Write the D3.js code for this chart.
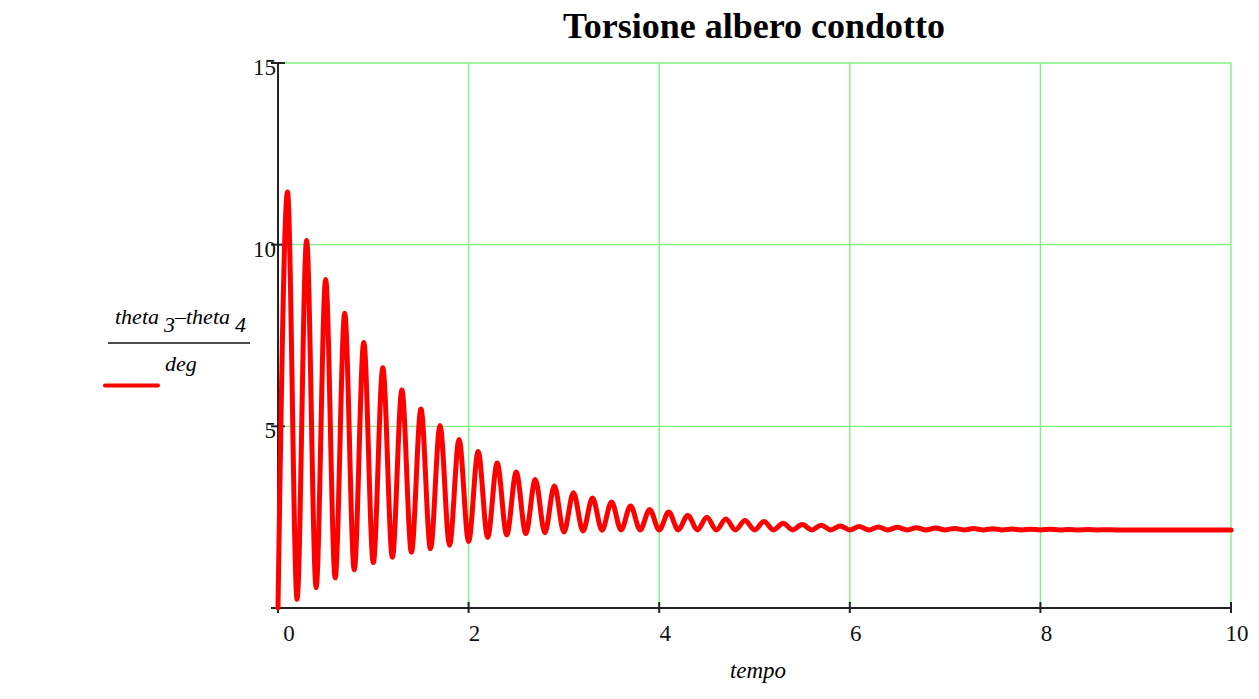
<!DOCTYPE html>
<html>
<head>
<meta charset="utf-8">
<script src="https://cdn.jsdelivr.net/npm/d3@7"></script>
<style>
  body { margin: 0; background: #fff; }
  svg { display: block; font-family: "Liberation Serif", "Times New Roman", serif; }
</style>
</head>
<body>
<div class="chart-container"></div>
<script>
// values: peaks and troughs of theta3-theta4 in deg
const peakTime = [0.1, 0.3, 0.5, 0.7, 0.9, 1.1, 1.3, 1.5, 1.7, 1.9, 2.1, 2.3, 2.5, 2.7, 2.9, 3.1, 3.3, 3.5, 3.7, 3.9,
  4.1, 4.3, 4.5, 4.7, 4.9, 5.1, 5.3, 5.5, 5.7, 5.9, 6.1, 6.3, 6.5, 6.7, 6.9, 7.1, 7.3, 7.5, 7.7, 7.9, 8.1, 8.3, 8.5, 8.7]
const peakValue = [11.45, 10.12, 9.04, 8.11, 7.31, 6.61, 6.00, 5.48, 5.02, 4.64, 4.31, 3.99, 3.74, 3.54, 3.36, 3.17, 3.03, 2.92, 2.81, 2.71,
  2.64, 2.55, 2.50, 2.45, 2.41, 2.38, 2.33, 2.30, 2.28, 2.26, 2.24, 2.23, 2.22, 2.21, 2.20, 2.19, 2.185, 2.18, 2.175, 2.17, 2.165, 2.16, 2.158, 2.155]
const troughTime = [0.2, 0.4, 0.6, 0.8, 1.0, 1.2, 1.4, 1.6, 1.8, 2.0, 2.2, 2.4, 2.6, 2.8, 3.0, 3.2, 3.4, 3.6, 3.8, 4.0,
  4.2, 4.4, 4.6, 4.8, 5.0, 5.2, 5.4, 5.6, 5.8, 6.0, 6.2, 6.4, 6.6, 6.8, 7.0, 7.2, 7.4, 7.6, 7.8, 8.0, 8.2, 8.4, 8.6, 8.8]
const troughValue = [0.24, 0.56, 0.83, 1.05, 1.25, 1.40, 1.54, 1.63, 1.73, 1.83, 1.95, 2.01, 2.05, 2.07, 2.09, 2.12, 2.14, 2.15, 2.15, 2.15,
  2.15, 2.15, 2.15, 2.15, 2.15, 2.15, 2.15, 2.15, 2.15, 2.15, 2.15, 2.15, 2.15, 2.15, 2.15, 2.15, 2.15, 2.15, 2.15, 2.15, 2.15, 2.15, 2.15, 2.15]
const startPoint = [0, 0]
const endPoint = [10, 2.15]

const xTicks = [0, 2, 4, 6, 8, 10]
const yTicks = [0, 5, 10, 15]
const yTickLabels = ["", "5", "10", "15"]

const width = 1259, height = 699

//Put peaks, troughs and the end points together in time order
let points = [startPoint]
peakTime.forEach((t, i) => points.push([t, peakValue[i]]))
troughTime.forEach((t, i) => points.push([t, troughValue[i]]))
points.push(endPoint)
points.sort((a, b) => a[0] - b[0])

const x = d3.scaleLinear().domain([0, 10]).range([278, 1231])
const y = d3.scaleLinear().domain([0, 15]).range([608, 63])

const svg = d3.select(".chart-container").append("svg")
  .attr("width", width)
  .attr("height", height)

//Grid lines (green)
const grid = svg.append("g").attr("stroke", "#7ff27f").attr("stroke-width", 1.4)
grid.selectAll("line.v").data(xTicks.filter(d => d > 0)).join("line")
  .attr("class", "v")
  .attr("x1", d => x(d)).attr("x2", d => x(d))
  .attr("y1", y(15)).attr("y2", y(0))
grid.selectAll("line.h").data(yTicks.filter(d => d > 0)).join("line")
  .attr("class", "h")
  .attr("x1", x(0)).attr("x2", x(10))
  .attr("y1", d => y(d)).attr("y2", d => y(d))

//Axes
const axisColor = "#222"
svg.append("line")
  .attr("x1", x(0) - 6).attr("x2", x(10))
  .attr("y1", y(0)).attr("y2", y(0))
  .attr("stroke", axisColor).attr("stroke-width", 2)
svg.append("line")
  .attr("x1", x(0)).attr("x2", x(0))
  .attr("y1", y(15)).attr("y2", y(0))
  .attr("stroke", axisColor).attr("stroke-width", 2)

svg.append("g").selectAll("line").data(xTicks).join("line")
  .attr("x1", d => x(d)).attr("x2", d => x(d))
  .attr("y1", y(0) - 6).attr("y2", y(0) + 5)
  .attr("stroke", axisColor).attr("stroke-width", 2)
svg.append("g").selectAll("line").data(yTicks).join("line")
  .attr("x1", x(0) - 7).attr("x2", x(0) + 7)
  .attr("y1", d => y(d)).attr("y2", d => y(d))
  .attr("stroke", axisColor).attr("stroke-width", 2)

svg.append("g").selectAll("text").data(xTicks).join("text")
  .attr("x", d => x(d) + (d == 0 ? 11 : 6))
  .attr("y", 641)
  .attr("text-anchor", "middle")
  .attr("font-size", 23)
  .attr("fill", "#111")
  .text(d => d)
svg.append("g").selectAll("text").data(yTicks).join("text")
  .attr("x", x(0) - 2)
  .attr("y", d => y(d) + 12)
  .attr("text-anchor", "end")
  .attr("font-size", 23)
  .attr("fill", "#111")
  .text((d, i) => yTickLabels[i])

//Title and axis label
svg.append("text")
  .attr("x", 754).attr("y", 38)
  .attr("text-anchor", "middle")
  .attr("font-size", 36)
  .attr("font-weight", "bold")
  .text("Torsione albero condotto")

svg.append("text")
  .attr("x", 758).attr("y", 678)
  .attr("text-anchor", "middle")
  .attr("font-size", 23)
  .attr("font-style", "italic")
  .text("tempo")

//Legend: (theta3 - theta4) / deg with red line
const leg = svg.append("text")
  .attr("x", 115).attr("y", 324)
  .attr("font-size", 22)
  .attr("font-style", "italic")
leg.append("tspan").text("theta")
leg.append("tspan").attr("dx", 5).attr("dy", 8).text("3")
leg.append("tspan").attr("dy", -8).text("\u2013theta")
leg.append("tspan").attr("dx", 5).attr("dy", 8).text("4")

svg.append("line")
  .attr("x1", 108).attr("x2", 250)
  .attr("y1", 343).attr("y2", 343)
  .attr("stroke", "#111").attr("stroke-width", 1.6)

svg.append("text")
  .attr("x", 181).attr("y", 371)
  .attr("text-anchor", "middle")
  .attr("font-size", 22)
  .attr("font-style", "italic")
  .text("deg")

svg.append("line")
  .attr("x1", 105).attr("x2", 158)
  .attr("y1", 385.5).attr("y2", 385.5)
  .attr("stroke", "#ff0000").attr("stroke-width", 4)
  .attr("stroke-linecap", "round")

//The response curve
const line = d3.line()
  .x(d => x(d[0]))
  .y(d => y(d[1]))
  .curve(d3.curveMonotoneX)

svg.append("path")
  .datum(points)
  .attr("fill", "none")
  .attr("stroke", "#ff0000")
  .attr("stroke-width", 5)
  .attr("stroke-linejoin", "round")
  .attr("stroke-linecap", "round")
  .attr("d", line)
</script>
</body>
</html>
